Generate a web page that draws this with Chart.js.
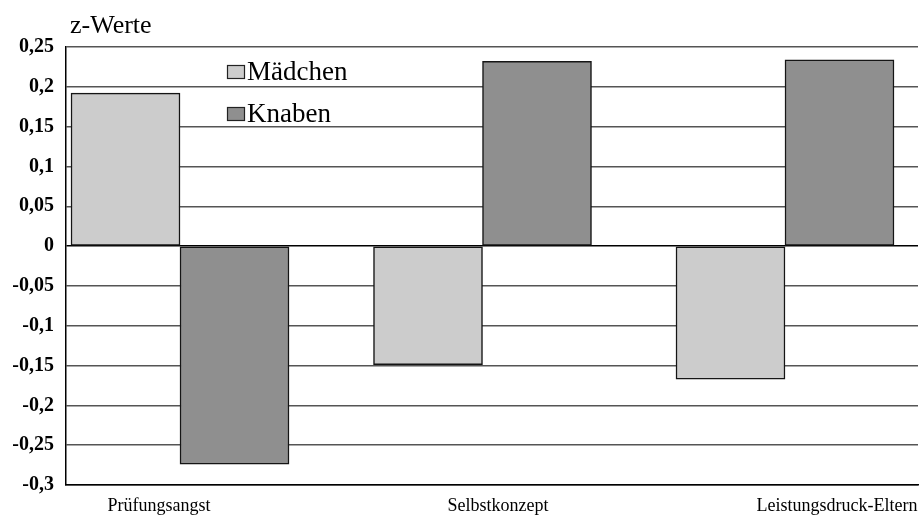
<!DOCTYPE html>
<html lang="de">
<head>
<meta charset="utf-8">
<title>z-Werte nach Geschlecht</title>
<script src="https://cdn.jsdelivr.net/npm/chart.js@4.4.1/dist/chart.umd.min.js"></script>
<style>
  html, body { margin: 0; padding: 0; background: #ffffff; }
  #wrap { width: 920px; height: 515px; position: relative; }
</style>
</head>
<body>
<div id="wrap"><canvas id="chart" width="920" height="515"></canvas></div>
<script>
// Skalen und Werte
const categories = ['Prüfungsangst', 'Selbstkonzept', 'Leistungsdruck-Eltern'];
const seriesNames = ['Mädchen', 'Knaben'];
const maedchen = [0.192, -0.149, -0.167];
const knaben = [-0.274, 0.232, 0.234];
const yTickLabels = ['-0,3', '-0,25', '-0,2', '-0,15', '-0,1', '-0,05', '0', '0,05', '0,1', '0,15', '0,2', '0,25'];
const axisCaption = 'z-Werte';

const toPoints = (values) => values.map((v, i) => ({ x: i, y: v }));

// Beschriftung der Wertachse oben links
const captionPlugin = {
  id: 'caption',
  afterDraw(chart, args, opts) {
    const { ctx, chartArea } = chart;
    ctx.save();
    ctx.font = opts.font;
    ctx.fillStyle = '#000';
    ctx.textBaseline = 'alphabetic';
    ctx.textAlign = 'left';
    ctx.fillText(opts.text, chartArea.left + opts.dx, opts.y);
    ctx.restore();
  }
};

// Legende innerhalb der Zeichenfläche
const innerLegend = {
  id: 'innerLegend',
  afterDatasetsDraw(chart, args, opts) {
    const { ctx } = chart;
    ctx.save();
    ctx.font = opts.font;
    ctx.textBaseline = 'alphabetic';
    ctx.textAlign = 'left';
    chart.data.datasets.forEach((ds, i) => {
      const top = opts.y + i * opts.rowHeight;
      ctx.fillStyle = ds.backgroundColor;
      ctx.fillRect(opts.x, top, opts.boxWidth, opts.boxHeight);
      ctx.lineWidth = 1.2;
      ctx.strokeStyle = '#222';
      ctx.strokeRect(opts.x + 0.5, top + 0.5, opts.boxWidth - 1, opts.boxHeight - 1);
      ctx.fillStyle = '#000';
      ctx.fillText(ds.label, opts.x + opts.boxWidth + 2, top + opts.textOffset);
    });
    ctx.restore();
  }
};

const serif = '"Liberation Serif", "Times New Roman", serif';

new Chart(document.getElementById('chart'), {
  type: 'bar',
  data: {
    datasets: [
      {
        label: seriesNames[0],
        data: toPoints(maedchen),
        backgroundColor: '#cccccc',
        borderColor: '#151515',
        borderWidth: 1.5,
        borderSkipped: false,
        barThickness: 109
      },
      {
        label: seriesNames[1],
        data: toPoints(knaben),
        backgroundColor: '#8f8f8f',
        borderColor: '#151515',
        borderWidth: 1.5,
        borderSkipped: false,
        barThickness: 109
      }
    ]
  },
  options: {
    responsive: false,
    animation: false,
    devicePixelRatio: 1,
    layout: { padding: { top: 47, right: 2, left: 0, bottom: 0 } },
    scales: {
      x: {
        type: 'linear',
        display: false,
        offset: false,
        min: -0.3769,
        max: 2.4397
      },
      xl: {
        type: 'linear',
        position: 'bottom',
        offset: false,
        min: -0.2743,
        max: 2.239,
        afterBuildTicks(scale) {
          scale.ticks = categories.map((c, i) => ({ value: i }));
        },
        afterFit(scale) { scale.height = 30; },
        grid: { display: false, offset: false },
        border: { display: true, color: '#000', width: 1.5 },
        ticks: {
          callback: (v) => categories[v],
          font: { family: serif, size: 18 },
          color: '#000',
          padding: 2,
          maxRotation: 0,
          autoSkip: false
        }
      },
      y: {
        min: -0.3,
        max: 0.25,
        afterFit(scale) { scale.width = 66; },
        ticks: {
          stepSize: 0.05,
          callback: (v, i) => yTickLabels[i],
          font: { family: serif, size: 20, weight: 'bold' },
          color: '#000',
          padding: 12
        },
        grid: {
          color: (ctx) => (ctx.tick && Math.abs(ctx.tick.value) < 1e-9 ? '#000' : '#555'),
          lineWidth: 1.5,
          drawTicks: false
        },
        border: { display: true, color: '#000', width: 1.5 }
      }
    },
    plugins: {
      legend: { display: false },
      tooltip: { enabled: false },
      caption: { text: axisCaption, font: '26px ' + serif, dx: 4, y: 33 },
      innerLegend: {
        x: 227, y: 65, boxWidth: 18, boxHeight: 14, rowHeight: 42, textOffset: 15,
        font: '27px ' + serif
      }
    }
  },
  plugins: [captionPlugin, innerLegend]
});
</script>
</body>
</html>
